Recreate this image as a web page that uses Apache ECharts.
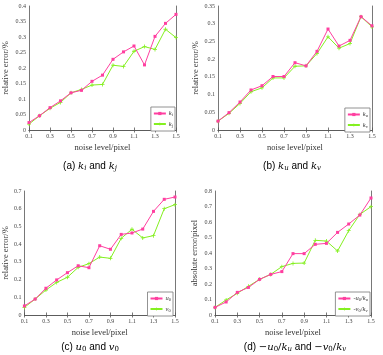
<!DOCTYPE html>
<html><head><meta charset="utf-8">
<script src="https://cdn.jsdelivr.net/npm/echarts@6/dist/echarts.min.js"></script>
<style>html,body{margin:0;padding:0;background:#fff}#c{width:383px;height:355px}</style>
</head><body><div id="c"></div>
<script>
// ---- data ----
const noiseLevels = ['0.1','0.2','0.3','0.4','0.5','0.6','0.7','0.8','0.9','1.0','1.1','1.2','1.3','1.4','1.5'];
const kiErr = [0.024,0.046,0.072,0.094,0.120,0.128,0.157,0.177,0.228,0.252,0.271,0.210,0.302,0.344,0.373];
const kjErr = [0.019,0.046,0.070,0.089,0.120,0.131,0.145,0.147,0.209,0.205,0.254,0.269,0.260,0.325,0.298];
const kuErr = [0.025,0.049,0.079,0.113,0.125,0.151,0.151,0.190,0.181,0.222,0.285,0.237,0.253,0.320,0.294];
const kvErr = [0.025,0.047,0.075,0.108,0.119,0.147,0.147,0.180,0.181,0.216,0.263,0.231,0.244,0.320,0.291];
const u0Err = [0.051,0.090,0.151,0.198,0.239,0.278,0.267,0.391,0.371,0.455,0.463,0.485,0.585,0.653,0.666];
const v0Err = [0.043,0.090,0.141,0.184,0.213,0.269,0.290,0.327,0.320,0.433,0.484,0.435,0.448,0.600,0.623];
const u0kuErr = [0.049,0.084,0.146,0.178,0.230,0.262,0.280,0.396,0.396,0.456,0.462,0.533,0.587,0.645,0.755];
const v0kvErr = [0.049,0.097,0.140,0.185,0.230,0.262,0.312,0.333,0.335,0.482,0.477,0.413,0.544,0.649,0.699];
const yMax = [0.4, 0.35, 0.7, 0.8];
const yStep = [0.05, 0.05, 0.1, 0.1];
const yNames = ['relative error/%','relative error/%','relative error/%','absolute error/pixel'];
const xName = 'noise level/pixel';

// ---- layout ----
const panels = [
  {grid:{left:22,top:6,width:154,height:124}, legend:{right:208,top:107}, a:kiErr, b:kjErr, na:'ki', nb:'kj', yGap:19},
  {grid:{left:218,top:6,width:154,height:124}, legend:{right:13,top:108}, a:kuErr, b:kvErr, na:'ku', nb:'kv', yGap:17},
  {grid:{left:18,top:191,width:157,height:124}, legend:{right:210,top:292}, a:u0Err, b:v0Err, na:'u0', nb:'v0', yGap:14},
  {grid:{left:215,top:191,width:156,height:124}, legend:{right:13,top:292}, a:u0kuErr, b:v0kvErr, na:'-u0/ku', nb:'-v0/kv', yGap:16}
];
const legendLabels = {
  'ki':'{i|k}{s|i}','kj':'{i|k}{s|j}','ku':'{i|k}{s|u}','kv':'{i|k}{s|v}',
  'u0':'{i|u}{s|0}','v0':'{i|v}{s|0}',
  '-u0/ku':'{n|-}{i|u}{s|0}{n|/}{i|k}{s|u}','-v0/kv':'{n|-}{i|v}{s|0}{n|/}{i|k}{s|v}'
};
const pink = '#ff3fa0', green = '#84f020', axisCol = '#555';
const plusPath = 'path://M4,0 L6,0 L6,4 L10,4 L10,6 L6,6 L6,10 L4,10 L4,6 L0,6 L0,4 L4,4 Z';
const serif = 'Liberation Serif';

const grids=[], xAxes=[], yAxes=[], series=[], legends=[];
panels.forEach((p,i)=>{
  grids.push(Object.assign({containLabel:false}, p.grid));
  const lineS = {show:true, lineStyle:{color:axisCol, width:0.8}};
  xAxes.push({gridIndex:i, type:'category', data:noiseLevels, boundaryGap:false,
    name:xName, nameLocation:'middle', nameGap:13, nameTextStyle:{fontFamily:serif,fontSize:8.5,color:'#333'},
    axisLine:lineS, axisTick:{inside:true,interval:1,length:2.5,lineStyle:{color:axisCol,width:0.8}},
    axisLabel:{interval:1,fontFamily:serif,fontSize:6,color:'#444',margin:3}, splitLine:{show:false}});
  xAxes.push({gridIndex:i, type:'category', data:noiseLevels, boundaryGap:false, position:'top',
    axisLine:lineS, axisTick:{inside:true,interval:1,length:2.5,lineStyle:{color:axisCol,width:0.8}},
    axisLabel:{show:false}, splitLine:{show:false}});
  yAxes.push({gridIndex:i, type:'value', min:0, max:yMax[i], interval:yStep[i],
    name:yNames[i], nameLocation:'middle', nameGap:p.yGap, nameTextStyle:{fontFamily:serif,fontSize:8.5,color:'#333'},
    axisLine:lineS, axisTick:{inside:true,length:2.5,lineStyle:{color:axisCol,width:0.8}},
    axisLabel:{fontFamily:serif,fontSize:6,color:'#444',margin:3}, splitLine:{show:false}});
  yAxes.push({gridIndex:i, type:'value', min:0, max:yMax[i], interval:yStep[i], position:'right',
    axisLine:lineS, axisTick:{inside:true,length:2.5,lineStyle:{color:axisCol,width:0.8}},
    axisLabel:{show:false}, splitLine:{show:false}});
  series.push({name:p.na, type:'line', xAxisIndex:2*i, yAxisIndex:2*i, data:p.a,
    symbol:'rect', symbolSize:3, lineStyle:{color:pink,width:1}, itemStyle:{color:pink}, z:3});
  series.push({name:p.nb, type:'line', xAxisIndex:2*i, yAxisIndex:2*i, data:p.b,
    symbol:plusPath, symbolSize:4, lineStyle:{color:green,width:1}, itemStyle:{color:green}, z:2});
  legends.push(Object.assign({data:[p.na,p.nb], orient:'vertical', itemWidth:12, itemHeight:4, itemGap:3,
    padding:[3,2,3,2], borderColor:'#777', borderWidth:0.8, backgroundColor:'#fff', selectedMode:false,
    formatter: n=>legendLabels[n],
    textStyle:{fontSize:6, fontFamily:serif, color:'#333', padding:[0,0,0,-2],
      rich:{i:{fontStyle:'italic',fontFamily:serif,fontSize:6.5,color:'#333'},
            s:{fontFamily:serif,fontSize:4.5,verticalAlign:'bottom',padding:[3,0,0,0],color:'#333'},
            n:{fontFamily:serif,fontSize:6.5,color:'#333'}}}}, p.legend));
});

// captions
const capRich = {
  n:{fontFamily:'Liberation Sans',fontSize:10,color:'#111'},
  i:{fontFamily:'DejaVu Serif',fontStyle:'italic',fontSize:10,color:'#111'},
  s:{fontFamily:'DejaVu Serif',fontStyle:'italic',fontSize:7,color:'#111',verticalAlign:'bottom',padding:[5,0,0,0]},
  r:{fontFamily:'DejaVu Serif',fontSize:7,color:'#111',verticalAlign:'bottom',padding:[5,0,0,0]},
  m:{fontFamily:'DejaVu Serif',fontSize:10,color:'#111'}
};
const captions = [
  {x:90,y:166,t:'{n|(a) }{i|k}{s|i}{n| and }{i|k}{s|j}'},
  {x:292,y:166,t:'{n|(b) }{i|k}{s|u}{n| and }{i|k}{s|v}'},
  {x:90,y:347,t:'{n|(c) }{i|u}{r|0}{n| and }{i|v}{r|0}'},
  {x:295,y:347,t:'{n|(d) }{m|−}{i|u}{r|0}{m|/}{i|k}{s|u}{n| and }{m|−}{i|v}{r|0}{m|/}{i|k}{s|v}'}
];
const graphic = captions.map(c=>({type:'text', x:c.x, y:c.y,
  style:{text:c.t, rich:capRich, align:'center', verticalAlign:'middle'}}));

const chart = echarts.init(document.getElementById('c'), null, {renderer:'canvas'});
chart.setOption({animation:false, backgroundColor:'#fff', grid:grids, xAxis:xAxes, yAxis:yAxes,
  series:series, legend:legends, graphic:graphic});
</script></body></html>
